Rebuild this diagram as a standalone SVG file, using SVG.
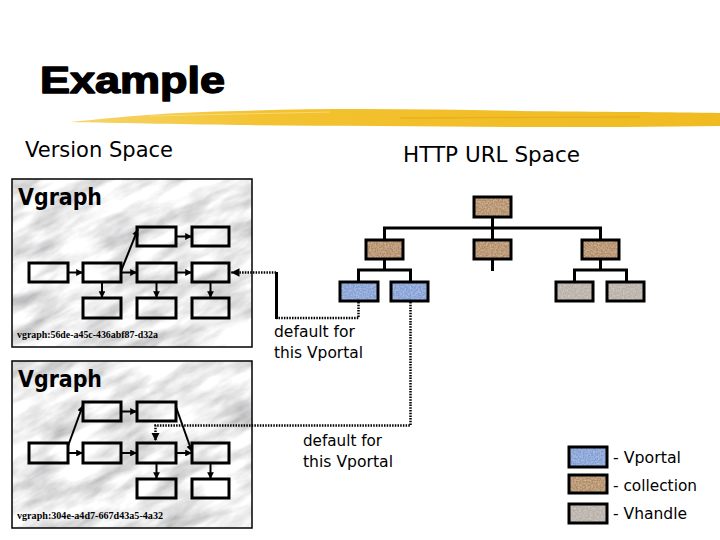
<svg xmlns="http://www.w3.org/2000/svg" width="720" height="540" viewBox="0 0 720 540">
<style>
.t{font-family:"DejaVu Sans","Liberation Sans",sans-serif;fill:#000}
.vg{font-family:"DejaVu Sans","Liberation Sans",sans-serif;font-weight:bold;font-size:23px}
.id{font-family:"Liberation Serif",serif;font-weight:bold;font-size:11px}
.box{fill:none;stroke:#000;stroke-width:3}
.panel{stroke:#000;stroke-width:1.5;fill:none}
.ln{stroke:#000;stroke-width:2;fill:none}
.tr{stroke:#000;stroke-width:3;fill:none}
.dot{stroke:#000;stroke-width:2.5;fill:none;stroke-dasharray:1.5 1.2}
.col{fill:#b38b5d}
.vp{fill:#7f9fd6}
.vh{fill:#b7aea6}
.fr{fill:none;stroke:#000;stroke-width:3}
</style>
<defs>
<marker id="ah" viewBox="0 0 10 10" refX="10" refY="5" markerWidth="3.4" markerHeight="3.4" orient="auto"><path d="M0,0 L10,5 L0,10 z" fill="#000"/></marker>
<filter id="marble" x="0" y="0" width="1" height="1">
<feTurbulence type="fractalNoise" baseFrequency="0.018 0.06" numOctaves="5" seed="3"/>
<feColorMatrix type="matrix" values="1.1 0 0 0 0.3  1.1 0 0 0 0.3  1.1 0 0 0 0.31  0 0 0 0 1"/>
</filter>
<filter id="grain" x="0" y="0" width="1" height="1">
<feTurbulence type="fractalNoise" baseFrequency="0.6" numOctaves="2" seed="5" result="n"/>
<feColorMatrix in="n" type="matrix" values="0 0 0 0 1  0 0 0 0 1  0 0 0 0 1  0.6 0 0 0 -0.2" result="w"/>
<feComposite in="w" in2="SourceAlpha" operator="in" result="wc"/>
<feMerge><feMergeNode in="SourceGraphic"/><feMergeNode in="wc"/></feMerge>
</filter>
<clipPath id="c1"><rect x="12" y="179" width="240" height="168"/></clipPath>
<clipPath id="c2"><rect x="12" y="361" width="240" height="167"/></clipPath>
<linearGradient id="br" x1="0" y1="0" x2="1" y2="0">
<stop offset="0" stop-color="#f6d66a"/><stop offset="0.3" stop-color="#f3c230"/><stop offset="1" stop-color="#f0bb22"/>
</linearGradient>
</defs>
<rect width="720" height="540" fill="#fff"/>

<g id="title">
<text x="40" y="93" font-family="'Liberation Sans',sans-serif" font-weight="bold" font-size="36" stroke="#000" stroke-width="1.4" stroke-linejoin="round" textLength="185" lengthAdjust="spacingAndGlyphs">Example</text>
<path d="M70,122 C120,117 170,112 240,111 C330,108 420,109 520,111 C600,112 670,112 720,113 L720,126 C660,127 590,127 520,127 C420,126 330,126 240,125 C170,124 120,123 70,122 z" fill="url(#br)"/>
<path d="M150,116 L330,112" stroke="#fbe08a" stroke-width="1" opacity="0.7"/>
<path d="M400,118 L640,117" stroke="#e3a812" stroke-width="1.5" opacity="0.6"/>
</g>
<text class="t" x="25" y="157" font-size="22" textLength="148" lengthAdjust="spacingAndGlyphs">Version Space</text>
<text class="t" x="403" y="162" font-size="21" textLength="177" lengthAdjust="spacingAndGlyphs">HTTP URL Space</text>

<g id="vgraph1">
<g clip-path="url(#c1)"><rect x="-100" y="80" width="480" height="360" filter="url(#marble)" transform="rotate(-28 132 263)"/></g>
<rect class="panel" x="12" y="179" width="240" height="168"/>
<text class="vg" x="18" y="205" textLength="84" lengthAdjust="spacingAndGlyphs">Vgraph</text>
<rect class="box" x="137" y="227" width="39" height="19"/>
<rect class="box" x="192" y="227" width="37" height="19"/>
<rect class="box" x="29" y="263" width="39" height="19"/>
<rect class="box" x="83" y="263" width="38" height="19"/>
<rect class="box" x="137" y="263" width="39" height="19"/>
<rect class="box" x="192" y="263" width="37" height="19"/>
<rect class="box" x="83" y="298" width="38" height="20"/>
<rect class="box" x="137" y="298" width="39" height="20"/>
<rect class="box" x="192" y="298" width="37" height="20"/>
<g marker-end="url(#ah)">
<line class="ln" x1="176" y1="236.5" x2="192" y2="236.5"/>
<line class="ln" x1="68" y1="272.5" x2="83" y2="272.5"/>
<line class="ln" x1="121" y1="272.5" x2="137" y2="272.5"/>
<line class="ln" x1="176" y1="272.5" x2="192" y2="272.5"/>
<line class="ln" x1="121" y1="271" x2="138" y2="229" stroke-width="2.5"/>
<line class="ln" x1="102" y1="282" x2="102" y2="298"/>
<line class="ln" x1="156.5" y1="282" x2="156.5" y2="298"/>
<line class="ln" x1="210.5" y1="282" x2="210.5" y2="298"/>
</g>
<text class="id" x="17" y="338" textLength="141" lengthAdjust="spacingAndGlyphs">vgraph:56de-a45c-436abf87-d32a</text>
</g>

<g id="vgraph2">
<g clip-path="url(#c2)"><rect x="-100" y="262" width="480" height="360" filter="url(#marble)" transform="rotate(-28 132 444)"/></g>
<rect class="panel" x="12" y="361" width="240" height="167"/>
<text class="vg" x="18" y="387" textLength="84" lengthAdjust="spacingAndGlyphs">Vgraph</text>
<rect class="box" x="83" y="402" width="38" height="19"/>
<rect class="box" x="137" y="402" width="39" height="19"/>
<rect class="box" x="29" y="443" width="39" height="20"/>
<rect class="box" x="83" y="443" width="38" height="20"/>
<rect class="box" x="137" y="443" width="39" height="20"/>
<rect class="box" x="192" y="443" width="37" height="20"/>
<rect class="box" x="137" y="479" width="39" height="19"/>
<rect class="box" x="192" y="479" width="37" height="19"/>
<g marker-end="url(#ah)">
<line class="ln" x1="121" y1="411.5" x2="137" y2="411.5"/>
<line class="ln" x1="68" y1="453" x2="83" y2="453"/>
<line class="ln" x1="121" y1="453" x2="137" y2="453"/>
<line class="ln" x1="176" y1="453" x2="192" y2="453"/>
<line class="ln" x1="68" y1="446" x2="83" y2="405" stroke-width="2.5"/>
<line class="ln" x1="176" y1="407" x2="192" y2="452" stroke-width="2.5"/>
<line class="ln" x1="156.5" y1="463" x2="156.5" y2="479"/>
<line class="ln" x1="210.5" y1="463" x2="210.5" y2="479"/>
</g>
<text class="id" x="17" y="519" textLength="146" lengthAdjust="spacingAndGlyphs">vgraph:304e-a4d7-667d43a5-4a32</text>
</g>

<g id="tree-lines">
<line class="tr" x1="492.5" y1="217" x2="492.5" y2="240"/>
<line class="tr" x1="383" y1="228" x2="602" y2="228"/>
<line class="tr" x1="384.5" y1="228" x2="384.5" y2="240"/>
<line class="tr" x1="600.5" y1="228" x2="600.5" y2="240"/>
<line class="tr" x1="492.5" y1="259" x2="492.5" y2="271"/>
<line class="tr" x1="384.5" y1="259" x2="384.5" y2="270"/>
<polyline class="tr" points="358.5,282 358.5,270 410.5,270 410.5,282"/>
<line class="tr" x1="600.5" y1="259" x2="600.5" y2="270"/>
<polyline class="tr" points="574.5,282 574.5,270 626.5,270 626.5,282"/>
</g>
<g id="root"><rect class="col" x="474" y="197" width="37" height="20" filter="url(#grain)"/><rect class="fr" x="474" y="197" width="37" height="20"/></g>
<g id="coll-left"><rect class="col" x="366" y="240" width="37" height="19" filter="url(#grain)"/><rect class="fr" x="366" y="240" width="37" height="19"/></g>
<g id="coll-mid"><rect class="col" x="474" y="240" width="37" height="19" filter="url(#grain)"/><rect class="fr" x="474" y="240" width="37" height="19"/></g>
<g id="coll-right"><rect class="col" x="582" y="240" width="37" height="19" filter="url(#grain)"/><rect class="fr" x="582" y="240" width="37" height="19"/></g>
<g id="vportal1"><rect class="vp" x="340" y="282" width="38" height="19" filter="url(#grain)"/><rect class="fr" x="340" y="282" width="38" height="19"/></g>
<g id="vportal2"><rect class="vp" x="391" y="282" width="37" height="19" filter="url(#grain)"/><rect class="fr" x="391" y="282" width="37" height="19"/></g>
<g id="vhandle1"><rect class="vh" x="556" y="282" width="37" height="19" filter="url(#grain)"/><rect class="fr" x="556" y="282" width="37" height="19"/></g>
<g id="vhandle2"><rect class="vh" x="607" y="282" width="37" height="19" filter="url(#grain)"/><rect class="fr" x="607" y="282" width="37" height="19"/></g>

<g id="connectors">
<polyline class="dot" points="358.5,302 358.5,318 276,318"/>
<line x1="276.5" y1="319" x2="276.5" y2="272" stroke="#000" stroke-width="3"/>
<line class="dot" x1="276" y1="272.5" x2="231" y2="272.5" marker-end="url(#ah)"/>
<polyline class="dot" points="410.5,302 410.5,425.5 155.5,425.5 155.5,441" marker-end="url(#ah)"/>
</g>

<text class="t" x="274" y="337" font-size="16" textLength="81" lengthAdjust="spacingAndGlyphs">default for</text>
<text class="t" x="274" y="358" font-size="16" textLength="89" lengthAdjust="spacingAndGlyphs">this Vportal</text>
<text class="t" x="303" y="446" font-size="16" textLength="79" lengthAdjust="spacingAndGlyphs">default for</text>
<text class="t" x="303" y="467" font-size="16" textLength="90" lengthAdjust="spacingAndGlyphs">this Vportal</text>

<g id="legend">
<g id="legend-vportal"><rect class="vp" x="569" y="447" width="38" height="20" filter="url(#grain)"/><rect class="fr" x="569" y="447" width="38" height="20"/>
<text class="t" x="613" y="463" font-size="16" textLength="68" lengthAdjust="spacingAndGlyphs">- Vportal</text></g>
<g id="legend-collection"><rect class="col" x="569" y="475" width="38" height="18" filter="url(#grain)"/><rect class="fr" x="569" y="475" width="38" height="18"/>
<text class="t" x="613" y="491" font-size="16" textLength="84" lengthAdjust="spacingAndGlyphs">- collection</text></g>
<g id="legend-vhandle"><rect class="vh" x="569" y="504" width="38" height="19" filter="url(#grain)"/><rect class="fr" x="569" y="504" width="38" height="19"/>
<text class="t" x="613" y="519" font-size="16" textLength="74" lengthAdjust="spacingAndGlyphs">- Vhandle</text></g>
</g>
</svg>
